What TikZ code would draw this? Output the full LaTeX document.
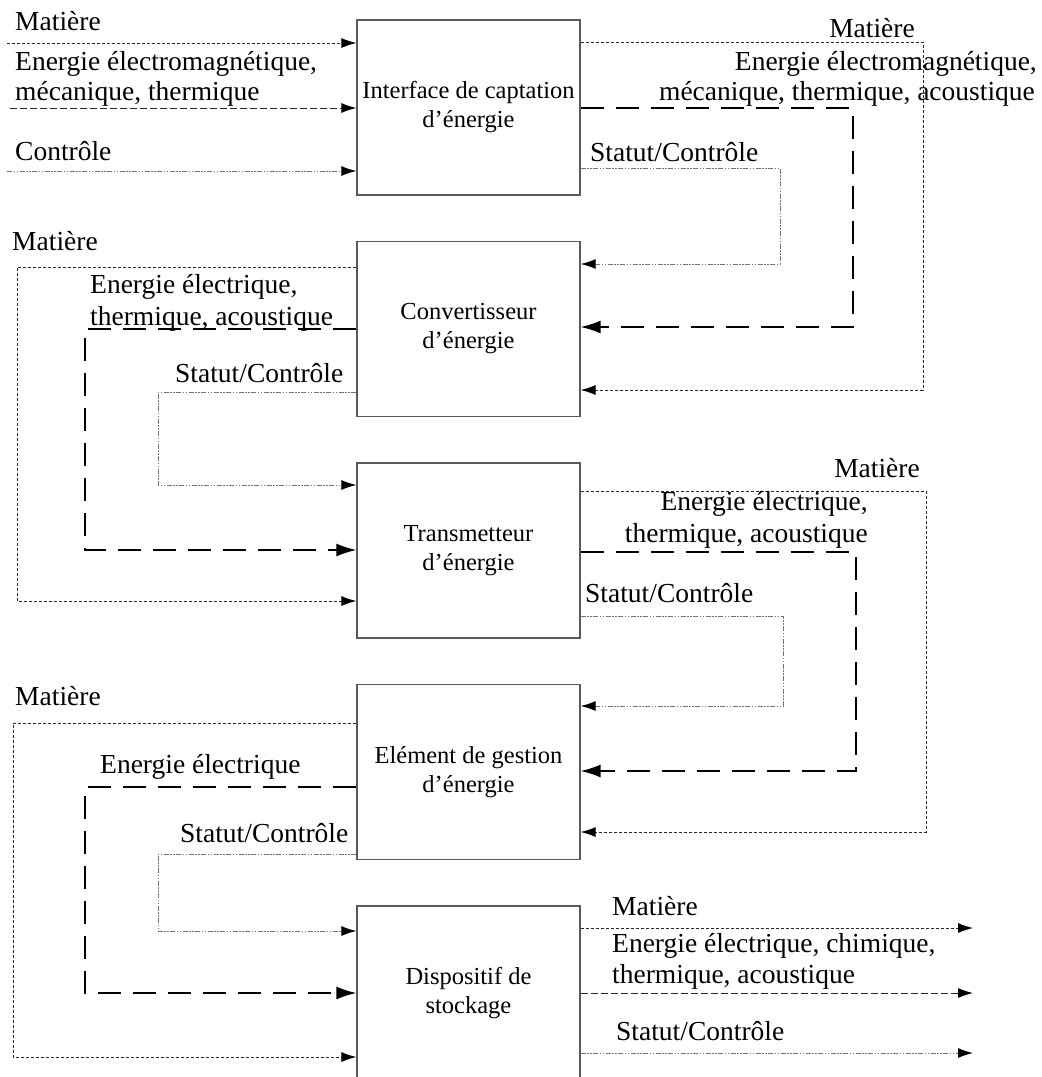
\documentclass[tikz,border=0pt]{standalone}
\usepackage{fontspec}
\setmainfont{Liberation Serif}
\usetikzlibrary{arrows.meta}
\newcommand\lblfont{\fontsize{27.5}{31}\selectfont}
\newcommand\boxfont{\fontsize{24.5}{29}\selectfont}
\begin{document}
\begin{tikzpicture}[x=1pt,y=-1pt,
  box/.style={draw=black!65, line width=1.3pt, minimum width=223pt, minimum height=175pt, inner sep=0pt, align=center, font=\boxfont},
  lbl/.style={inner sep=0pt, font=\lblfont},
  thintip/.style={-{Latex[length=15pt,width=10pt,color=black]}},
  thicktip/.style={-{Latex[length=20pt,width=13pt,color=black]}},
  mat/.style={thintip, line width=0.9pt, draw=black!85, dash pattern=on 3pt off 2pt},
  engs/.style={thintip, line width=1pt, draw=black!85, dash pattern=on 7pt off 3pt},
  eng/.style={thicktip, line width=1.6pt, draw=black, dash pattern=on 23pt off 12pt},
  stat/.style={thintip, line width=1pt, draw=black!55, dash pattern=on 5pt off 1.5pt on 1.5pt off 1.5pt on 1.5pt off 1.5pt}
]
\useasboundingbox (0,0) rectangle (1042,1077);

% boxes
\node[box] (b1) at (468.5,107.5) {Interface de captation\\d’énergie};
\node[box] (b2) at (468.5,329) {Convertisseur\\d’énergie};
\node[box] (b3) at (468.5,550.5) {Transmetteur\\d’énergie};
\node[box] (b4) at (468.5,772) {Elément de gestion\\d’énergie};
\node[box] (b5) at (468.5,993.5) {Dispositif de\\stockage};

% coordinates
\coordinate (i1) at (7,43);
\coordinate (i2) at (10,108);
\coordinate (i3) at (7,171);
\coordinate (m12) at (923,42);  \coordinate (m12e) at (923,390);
\coordinate (e12) at (853,108); \coordinate (e12e) at (853,327);
\coordinate (s12) at (780,168); \coordinate (s12e) at (780,264);
\coordinate (m23) at (17,267);  \coordinate (m23e) at (17,601);
\coordinate (e23) at (85,329);  \coordinate (e23e) at (85,550);
\coordinate (s23) at (158,392); \coordinate (s23e) at (158,485);
\coordinate (m34) at (926,491); \coordinate (m34e) at (926,832);
\coordinate (e34) at (856,552); \coordinate (e34e) at (856,771);
\coordinate (s34) at (783,616); \coordinate (s34e) at (783,706);
\coordinate (m45) at (13,723);  \coordinate (m45e) at (13,1057);
\coordinate (e45) at (85,787);  \coordinate (e45e) at (85,993);
\coordinate (s45) at (158,854); \coordinate (s45e) at (158,931);
\coordinate (o1) at (973,928);
\coordinate (o2) at (973,993);
\coordinate (o3) at (973,1053);

% inputs of b1
\draw[mat]  (i1) -- (b1.west |- i1);
\draw[engs] (i2) -- (b1.west |- i2);
\draw[stat] (i3) -- (b1.west |- i3);

% b1 -> b2
\draw[mat]  (b1.east |- m12) -- (m12) -- (m12e) -- (b2.east |- m12e);
\draw[eng]  (b1.east |- e12) -- (e12) -- (e12e) -- (b2.east |- e12e);
\draw[stat] (b1.east |- s12) -- (s12) -- (s12e) -- (b2.east |- s12e);

% b2 -> b3
\draw[mat]  (b2.west |- m23) -- (m23) -- (m23e) -- (b3.west |- m23e);
\draw[eng]  (b2.west |- e23) -- (e23) -- (e23e) -- (b3.west |- e23e);
\draw[stat] (b2.west |- s23) -- (s23) -- (s23e) -- (b3.west |- s23e);

% b3 -> b4
\draw[mat]  (b3.east |- m34) -- (m34) -- (m34e) -- (b4.east |- m34e);
\draw[eng]  (b3.east |- e34) -- (e34) -- (e34e) -- (b4.east |- e34e);
\draw[stat] (b3.east |- s34) -- (s34) -- (s34e) -- (b4.east |- s34e);

% b4 -> b5
\draw[mat]  (b4.west |- m45) -- (m45) -- (m45e) -- (b5.west |- m45e);
\draw[eng]  (b4.west |- e45) -- (e45) -- (e45e) -- (b5.west |- e45e);
\draw[stat] (b4.west |- s45) -- (s45) -- (s45e) -- (b5.west |- s45e);

% outputs of b5
\draw[mat]  (b5.east |- o1) -- (o1);
\draw[engs] (b5.east |- o2) -- (o2);
\draw[stat] (b5.east |- o3) -- (o3);

% labels: inputs b1
\node[lbl, anchor=base west] (t1) at (15,30) {Matière};
\node[lbl, anchor=base west] (t2) at (15,70) {Energie électromagnétique,};
\node[lbl, anchor=base west] (t3) at (15,100) {mécanique, thermique};
\node[lbl, anchor=base west] (t4) at (15,160) {Contrôle};
% b1 outputs
\node[lbl, anchor=base east] (t5) at (915,37) {Matière};
\node[lbl, anchor=base east] (t6) at (1037,70) {Energie électromagnétique,};
\node[lbl, anchor=base east] (t7) at (1035,100) {mécanique, thermique, acoustique};
\node[lbl, anchor=base west] (t8) at (590,161) {Statut/Contrôle};
% b2 outputs
\node[lbl, anchor=base west] (t9) at (12,250) {Matière};
\node[lbl, anchor=base west] (t10) at (90,293) {Energie électrique,};
\node[lbl, anchor=base west] (t11) at (90,325) {thermique, acoustique};
\node[lbl, anchor=base west] (t12) at (175,382) {Statut/Contrôle};
% b3 outputs
\node[lbl, anchor=base east] (t13) at (920,477) {Matière};
\node[lbl, anchor=base east] (t14) at (868,510) {Energie électrique,};
\node[lbl, anchor=base east] (t15) at (868,542) {thermique, acoustique};
\node[lbl, anchor=base west] (t16) at (585,602) {Statut/Contrôle};
% b4 outputs
\node[lbl, anchor=base west] (t17) at (15,705) {Matière};
\node[lbl, anchor=base west] (t18) at (100,773) {Energie électrique};
\node[lbl, anchor=base west] (t19) at (180,842) {Statut/Contrôle};
% b5 outputs
\node[lbl, anchor=base west] (t20) at (612,915) {Matière};
\node[lbl, anchor=base west] (t21) at (612,952) {Energie électrique, chimique,};
\node[lbl, anchor=base west] (t22) at (612,983) {thermique, acoustique};
\node[lbl, anchor=base west] (t23) at (616,1040) {Statut/Contrôle};
\end{tikzpicture}
\end{document}
